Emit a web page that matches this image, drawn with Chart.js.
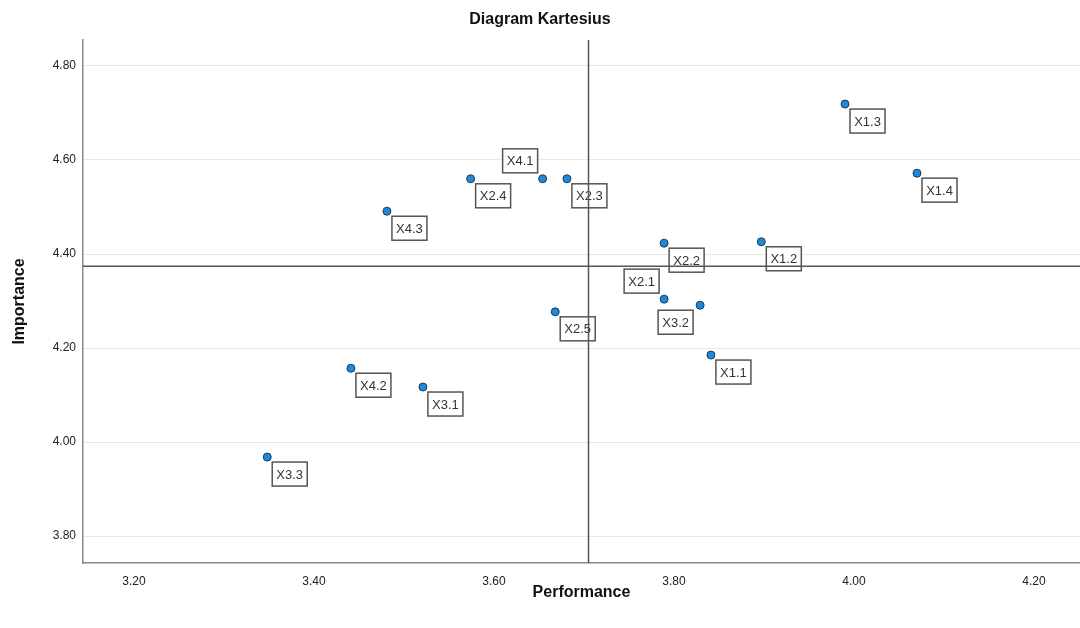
<!DOCTYPE html>
<html>
<head>
<meta charset="utf-8">
<title>Diagram Kartesius</title>
<script src="https://cdn.jsdelivr.net/npm/chart.js@4"></script>
<style>
  body { margin:0; background:#fff; }
  #wrap { width:1080px; height:628px; }
</style>
</head>
<body>
<div id="wrap"><canvas id="ipaChart" width="1080" height="628"></canvas></div>
<script>
// =============================
// DATA
// =============================
const itemLabels  = ['X1.1','X1.2','X1.3','X1.4','X2.1','X2.2','X2.3','X2.4','X2.5','X3.1','X3.2','X3.3','X4.1','X4.2','X4.3'];
const performance = [3.841,3.897,3.990,4.070,3.789,3.789,3.681,3.574,3.668,3.521,3.829,3.348,3.654,3.441,3.481];
const importance  = [4.185,4.426,4.719,4.572,4.304,4.423,4.560,4.560,4.277,4.117,4.291,3.968,4.560,4.157,4.491];
const xTickValues = [3.20,3.40,3.60,3.80,4.00,4.20];
const yTickValues = [3.80,4.00,4.20,4.40,4.60,4.80];
const meanPerformance = 3.705;
const meanImportance  = 4.374;

// where each label box sits around its point (br = below right)
const labelPos = { 'X4.1':'tl', 'X2.1':'tl', 'X3.2':'bl' };

const FONT = "'Liberation Sans', Arial, sans-serif";

// =============================
// PLUGIN: labels + reference lines
// =============================
const quadrantPlugin = {
    id: 'quadrant',
    beforeDatasetsDraw(chart){
        const ctx = chart.ctx;
        const meta = chart.getDatasetMeta(0);
        const area = chart.chartArea;
        const xs = chart.scales.x, ys = chart.scales.y;

        // label boxes
        ctx.save();
        ctx.font = '13px ' + FONT;
        ctx.textAlign = 'center';
        ctx.textBaseline = 'middle';
        meta.data.forEach((pt, i) => {
            let w = 35, h = 24;
            let pos = labelPos[itemLabels[i]] || 'br';
            let bx = pt.x + 5, by = pt.y + 5;
            if(pos === 'tl'){ bx = pt.x - 5 - w; by = pt.y - 6 - h; }
            if(pos === 'bl'){ bx = pt.x - 7 - w; by = pt.y + 5; }
            ctx.fillStyle = '#fff';
            ctx.fillRect(bx, by, w, h);
            ctx.strokeStyle = '#555';
            ctx.lineWidth = 1.5;
            ctx.strokeRect(bx, by, w, h);
            ctx.fillStyle = '#333';
            ctx.fillText(itemLabels[i], bx + w/2, by + h/2 + 1);
        });

        // mean lines
        let px = xs.getPixelForValue(meanPerformance);
        let py = ys.getPixelForValue(meanImportance);
        ctx.strokeStyle = '#555';
        ctx.lineWidth = 1.5;
        ctx.beginPath();
        ctx.moveTo(px, area.top); ctx.lineTo(px, area.bottom);
        ctx.moveTo(area.left, py); ctx.lineTo(area.right, py);
        ctx.stroke();
        ctx.restore();
    }
};

// =============================
// SCATTER CHART
// =============================
const points = performance.map((v, i) => ({ x: v, y: importance[i] }));

new Chart(document.getElementById('ipaChart'), {
    type: 'scatter',
    data: {
        labels: itemLabels,
        datasets: [{
            data: points,
            backgroundColor: '#1f88d8',
            borderColor: '#123f63',
            borderWidth: 1,
            pointRadius: 4,
            pointHoverRadius: 4
        }]
    },
    options: {
        responsive: false,
        animation: false,
        layout: { padding: 0, autoPadding: false },
        plugins: {
            legend: { display: false },
            tooltip: { enabled: false },
            title: {
                display: true,
                text: 'Diagram Kartesius',
                color: '#111',
                font: { family: FONT, size: 16, weight: 'bold' },
                padding: { top: 10, bottom: 10.8 }
            }
        },
        scales: {
            x: {
                type: 'linear',
                min: 3.1433, max: 4.2511,
                afterBuildTicks: s => { s.ticks = xTickValues.map(v => ({ value: v })); },
                afterFit: s => { s.height = 65; s.paddingLeft = 0; s.paddingRight = 0; },
                ticks: {
                    color: '#222', padding: 11,
                    font: { family: FONT, size: 12 },
                    callback: v => Number(v).toFixed(2)
                },
                grid: { display: false, drawTicks: false },
                border: { color: '#888', width: 1.5 },
                title: {
                    display: true, text: 'Performance', color: '#111',
                    font: { family: FONT, size: 16, weight: 'bold' },
                    padding: { top: 0, bottom: 26 }
                }
            },
            y: {
                type: 'linear',
                min: 3.7426, max: 4.8553,
                afterBuildTicks: s => { s.ticks = yTickValues.map(v => ({ value: v })); },
                afterFit: s => { s.width = 83; s.paddingTop = 0; s.paddingBottom = 0; },
                ticks: {
                    color: '#222', padding: 7,
                    font: { family: FONT, size: 12 },
                    callback: v => Number(v).toFixed(2)
                },
                grid: { color: '#efe9dc', lineWidth: 1, drawTicks: false },
                border: { color: '#888', width: 1.5 },
                title: {
                    display: true, text: 'Importance', color: '#111',
                    font: { family: FONT, size: 16, weight: 'bold' },
                    padding: { top: 10, bottom: 0 }
                }
            }
        }
    },
    plugins: [quadrantPlugin]
});
</script>
</body>
</html>
